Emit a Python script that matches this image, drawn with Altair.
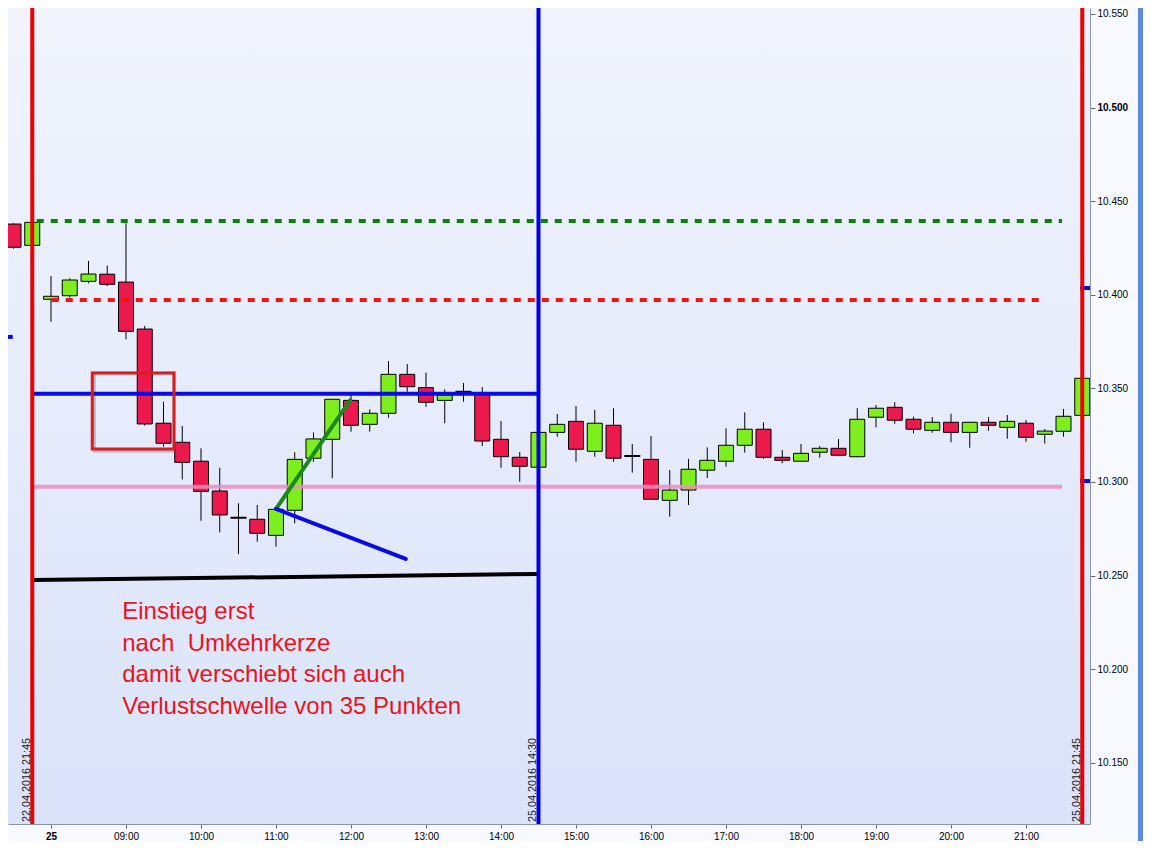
import altair as alt
import pandas as pd

# ---------------- data (15-minute candles, time in hours of the session axis) ----------------
t_vals = [7.25, 7.5, 7.75, 8.0, 8.25, 8.5, 8.75, 9.0, 9.25, 9.5, 9.75, 10.0, 10.25, 10.5, 10.75,
          11.0, 11.25, 11.5, 11.75, 12.0, 12.25, 12.5, 12.75, 13.0, 13.25, 13.5, 13.75, 14.0, 14.25,
          14.5, 14.75, 15.0, 15.25, 15.5, 15.75, 16.0, 16.25, 16.5, 16.75, 17.0, 17.25, 17.5, 17.75,
          18.0, 18.25, 18.5, 18.75, 19.0, 19.25, 19.5, 19.75, 20.0, 20.25, 20.5, 20.75, 21.0, 21.25,
          21.5, 21.75]
open_vals = [10.4400, 10.4378, 10.4264, 10.3976, 10.3995, 10.4072, 10.4110, 10.4068, 10.3817, 10.3314,
             10.3212, 10.3111, 10.2952, 10.2809, 10.2801, 10.2715, 10.2849, 10.3127, 10.3228, 10.3436,
             10.3308, 10.3367, 10.3575, 10.3504, 10.3436, 10.3482, 10.3468, 10.3228, 10.3132, 10.3079,
             10.3265, 10.3324, 10.3164, 10.3303, 10.3139, 10.3121, 10.2902, 10.2957, 10.3063, 10.3111,
             10.3196, 10.3282, 10.3132, 10.3111, 10.3159, 10.3180, 10.3135, 10.3346, 10.3399, 10.3335,
             10.3276, 10.3319, 10.3265, 10.3319, 10.3292, 10.3314, 10.3255, 10.3271, 10.3356]
high_vals = [10.4410, 10.4382, 10.4390, 10.4100, 10.4088, 10.4181, 10.4156, 10.4382, 10.3833, 10.3429,
             10.3299, 10.3180, 10.3076, 10.2886, 10.2877, 10.2854, 10.3159, 10.3265, 10.3442, 10.3465,
             10.3388, 10.3646, 10.3630, 10.3584, 10.3495, 10.3529, 10.3507, 10.3326, 10.3160, 10.3265,
             10.3363, 10.3406, 10.3385, 10.3394, 10.3203, 10.3246, 10.3064, 10.3123, 10.3185, 10.3287,
             10.3372, 10.3319, 10.3171, 10.3203, 10.3192, 10.3230, 10.3394, 10.3411, 10.3426, 10.3349,
             10.3347, 10.3365, 10.3319, 10.3347, 10.3358, 10.3331, 10.3283, 10.3390, 10.3554]
low_vals = [10.4360, 10.4246, 10.4260, 10.3856, 10.3985, 10.4061, 10.4047, 10.3762, 10.3301, 10.3189,
            10.3014, 10.2793, 10.2731, 10.2615, 10.2681, 10.2654, 10.2779, 10.3108, 10.3020, 10.3269,
            10.3269, 10.3343, 10.3482, 10.3402, 10.3314, 10.3429, 10.3192, 10.3076, 10.3002, 10.3079,
            10.3242, 10.3108, 10.3135, 10.3108, 10.3050, 10.2908, 10.2815, 10.2877, 10.3021, 10.3082,
            10.3157, 10.3123, 10.3100, 10.3111, 10.3130, 10.3143, 10.3132, 10.3292, 10.3311, 10.3260,
            10.3263, 10.3212, 10.3183, 10.3274, 10.3231, 10.3215, 10.3205, 10.3242, 10.3356]
close_vals = [10.4370, 10.4254, 10.4387, 10.3992, 10.4079, 10.4111, 10.4056, 10.3805, 10.3310, 10.3207,
              10.3105, 10.2950, 10.2824, 10.2809, 10.2726, 10.2854, 10.3121, 10.3230, 10.3442, 10.3303,
              10.3367, 10.3575, 10.3509, 10.3426, 10.3465, 10.3482, 10.3219, 10.3135, 10.3084, 10.3265,
              10.3308, 10.3175, 10.3314, 10.3127, 10.3139, 10.2908, 10.2957, 10.3068, 10.3116, 10.3196,
              10.3282, 10.3132, 10.3116, 10.3153, 10.3180, 10.3143, 10.3335, 10.3394, 10.3330, 10.3282,
              10.3319, 10.3265, 10.3319, 10.3303, 10.3324, 10.3239, 10.3272, 10.3351, 10.3554]

# axis ticks
x_ticks = list(range(8, 22))
y_ticks = [10.15, 10.20, 10.25, 10.30, 10.35, 10.40, 10.45, 10.50, 10.55]

# vertical session / marker lines
session_t = [7.75, 21.75]
session_label = ["22.04.2016 21:45", "25.04.2016 21:45"]
marker_t = [14.5]
marker_label = ["25.04.2016 14:30"]

# drawn levels and trend lines (start time, end time, start price, end price)
green_dotted = ([7.81], [21.48], [10.4394], [10.4394])
red_dotted = ([8.01], [21.19], [10.3972], [10.3972])
blue_level = ([7.76], [14.48], [10.3472], [10.3472])
pink_level = ([7.76], [21.48], [10.2975], [10.2975])
black_level = ([7.76], [14.48], [10.2476], [10.2509])
green_trend = ([11.0], [11.99], [10.2856], [10.3438])
blue_trend = ([11.0], [12.73], [10.2856], [10.2589])
blue_marks = ([7.30, 21.72, 21.72], [7.49, 21.86, 21.86], [10.3775, 10.4036, 10.3005], [10.3775, 10.4036, 10.3005])
box = ([8.55], [9.64], [10.3176], [10.3582])

note_lines = ["Einstieg erst", "nach\u00a0 Umkehrkerze", "damit verschiebt sich auch", "Verlustschwelle von 35 Punkten"]
note_t = [8.95]
note_p = [10.2268]

# ---------------- chart ----------------
W, H = 1082, 816
X_DOM = [7.4267, 21.8533]
Y_DOM = [10.11731, 10.5532]
FONT = "Liberation Sans"
GREEN = "#7DEE1E"
RED = "#EC1A4C"

df = pd.DataFrame({"t": t_vals, "open": open_vals, "high": high_vals, "low": low_vals, "close": close_vals})
df["kind"] = ["doji" if abs(a - b) < 1e-9 else ("up" if b > a else "down") for a, b in zip(open_vals, close_vals)]
df["bot"] = df[["open", "close"]].min(axis=1)
df["top"] = df[["open", "close"]].max(axis=1)

xs = alt.Scale(domain=X_DOM, nice=False, zero=False, padding=0)
ys = alt.Scale(domain=Y_DOM, nice=False, zero=False, padding=0)

xaxis = alt.Axis(
    values=x_ticks,
    labelExpr="datum.value == 8 ? '25' : (datum.value < 10 ? '0' : '') + datum.value + ':00'",
    labelFontWeight={"condition": {"test": "datum.value == 8", "value": "bold"}, "value": "normal"},
    grid=False, domainColor="#8A96A8", tickColor="#6A6A6A", tickSize=4,
    labelFont=FONT, labelFontSize=10, labelColor="black", labelPadding=3,
    labelFlush=False, labelOverlap=False, title=None,
)
yaxis = alt.Axis(
    orient="right", values=y_ticks, format=".3f",
    labelFontWeight={"condition": {"test": "abs(datum.value - 10.5) < 0.0001", "value": "bold"}, "value": "normal"},
    grid=False, domainColor="#8A96A8", tickColor="#6A6A6A", tickSize=5,
    labelFont=FONT, labelFontSize=10, labelColor="black", labelPadding=2,
    labelFlush=False, labelOverlap=False, title=None,
)


def X(f):
    return alt.X(f, type="quantitative", scale=xs, axis=xaxis, title=None)


def Y(f):
    return alt.Y(f, type="quantitative", scale=ys, axis=yaxis, title=None)


one = pd.DataFrame({"z": [0]})

bg = alt.Chart(one).mark_rect(
    color=alt.LinearGradient(
        gradient="linear",
        stops=[alt.GradientStop(color="#F1F4FD", offset=0), alt.GradientStop(color="#DAE3FA", offset=1)],
        x1=0, x2=0, y1=0, y2=1,
    )
).encode(x=alt.value(0), x2=alt.value(W), y=alt.value(0), y2=alt.value(H))

right_strip = alt.Chart(one).mark_rect(color="#5B8BD9").encode(
    x=alt.value(1130), x2=alt.value(1135), y=alt.value(-8), y2=alt.value(833))

base = alt.Chart(df)
wick = base.mark_rule(color="black", strokeWidth=1, clip=True).encode(
    x=X("t"), y=Y("low"), y2="high:Q")
body = base.transform_filter("datum.kind != 'doji'").mark_bar(
    width=15, stroke="black", strokeWidth=1, clip=True
).encode(
    x=X("t"), y=Y("bot"), y2="top:Q",
    color=alt.Color("kind:N", scale=alt.Scale(domain=["up", "down"], range=[GREEN, RED]), legend=None),
)
doji = base.transform_filter("datum.kind == 'doji'").mark_rule(
    xOffset=-8, x2Offset=8, strokeWidth=2, color="black", clip=True
).encode(x=X("t"), x2="t:Q", y=Y("open"))


def seg(spec, cap="butt", **props):
    d = pd.DataFrame({"x1": spec[0], "x2": spec[1], "y1": spec[2], "y2": spec[3]})
    return alt.Chart(d).mark_rule(clip=True, strokeCap=cap, **props).encode(
        x=X("x1"), x2="x2:Q", y=Y("y1"), y2="y2:Q")


lines = [
    seg(green_dotted, color="#0A820A", strokeWidth=4, strokeDash=[7, 7]),
    seg(red_dotted, color="#F01414", strokeWidth=4, strokeDash=[7, 7]),
    seg(blue_level, color="#0A0AE6", strokeWidth=4),
    seg(pink_level, color="#F08CC0", strokeWidth=4, opacity=0.85),
    seg(black_level, color="black", strokeWidth=4),
    seg(green_trend, cap="round", color="#1A8A1A", strokeWidth=4),
    seg(blue_trend, cap="round", color="#0A0AE6", strokeWidth=4),
    seg(blue_marks, color="#0A0AE6", strokeWidth=4),
]

box_df = pd.DataFrame({"x1": box[0], "x2": box[1], "y1": box[2], "y2": box[3]})
box_shadow = alt.Chart(box_df).mark_rect(
    fill=None, stroke="#5A3030", strokeOpacity=0.3, strokeWidth=3, xOffset=2, yOffset=2, clip=True
).encode(x=X("x1"), x2="x2:Q", y=Y("y1"), y2="y2:Q")
box_mark = alt.Chart(box_df).mark_rect(
    fill=None, stroke="#D81E1E", strokeWidth=3, clip=True
).encode(x=X("x1"), x2="x2:Q", y=Y("y1"), y2="y2:Q")


def vline(ts, labels, color):
    d = pd.DataFrame({"t": ts, "label": labels})
    rule = alt.Chart(d).mark_rule(strokeWidth=4, color=color).encode(x=X("t"))
    txt = alt.Chart(d).mark_text(
        angle=270, align="left", baseline="middle", xOffset=-5, font=FONT, fontSize=10.8, color="#202020"
    ).encode(x=X("t"), y=alt.value(H - 2), text="label:N")
    return [rule, txt]


note_df = pd.DataFrame({"t": note_t, "p": note_p})
note = alt.Chart(note_df).mark_text(
    text=note_lines, align="left", baseline="alphabetic", lineHeight=31.5,
    font=FONT, fontSize=24, color="#E8141C"
).encode(x=X("t"), y=Y("p"))

chart = alt.layer(
    bg, wick, body, doji, *lines, box_shadow, box_mark,
    *vline(session_t, session_label, "#F00000"),
    *vline(marker_t, marker_label, "#0000E0"),
    note, right_strip,
).properties(
    width=W, height=H,
    autosize=alt.AutoSizeParams(type="none"),
    padding={"left": 0, "top": 0, "right": 53, "bottom": 17},
).configure(background="#F7F9FE").configure_view(stroke=None)

chart.save("out.html", embed_options={"renderer": "svg", "actions": False})
